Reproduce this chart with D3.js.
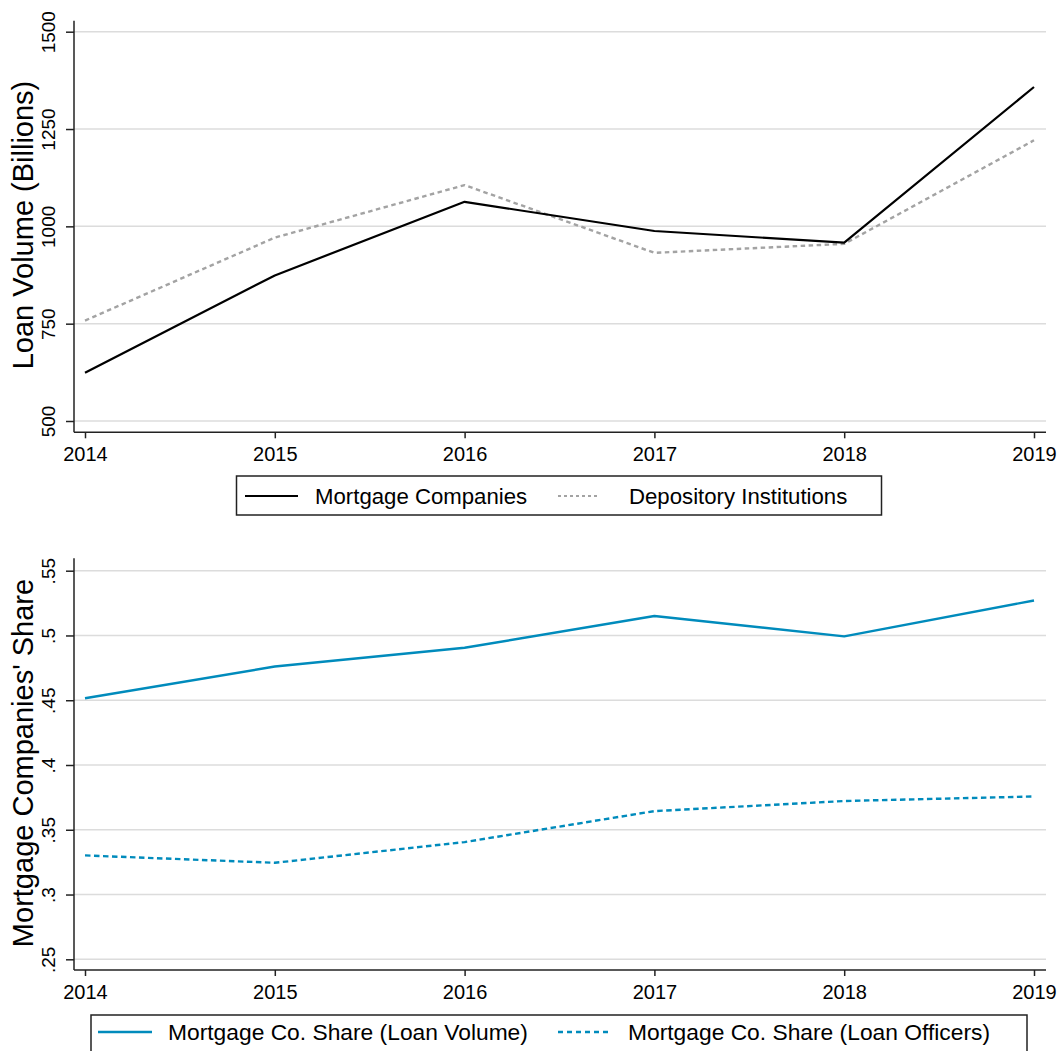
<!DOCTYPE html>
<html>
<head>
<meta charset="utf-8">
<script src="https://cdn.jsdelivr.net/npm/d3@7"></script>
<style>
  html, body { margin: 0; padding: 0; background: #fff; }
  svg { display: block; font-family: "Liberation Sans", Arial, sans-serif; }
</style>
</head>
<body>
<svg id="chart" width="1060" height="1051"></svg>
<script>
// ---- data ----
const years = [2014, 2015, 2016, 2017, 2018, 2019];
const mortgageCompanies = [624, 874, 1063, 988, 958, 1358];
const depositoryInstitutions = [758, 971, 1106, 932, 955, 1221];
const shareLoanVolume = [0.4515, 0.476, 0.4905, 0.515, 0.4993, 0.527];
const shareLoanOfficers = [0.3302, 0.3245, 0.3405, 0.3644, 0.3722, 0.3757];
const topTicks = [500, 750, 1000, 1250, 1500];
const bottomTicks = [0.25, 0.30, 0.35, 0.40, 0.45, 0.50, 0.55];
const bottomTickLabels = [".25", ".3", ".35", ".4", ".45", ".5", ".55"];
const topLegend = ["Mortgage Companies", "Depository Institutions"];
const bottomLegend = ["Mortgage Co. Share (Loan Volume)", "Mortgage Co. Share (Loan Officers)"];

const svg = d3.select("#chart");
const BLUE = "rgb(0,139,188)";
const GRAY = "#a3a3a3";
const GRID = "#dcdcdc";
const AXIS = "#222";

const x = d3.scaleLinear().domain([2014, 2019]).range([85, 1034]);
const plotLeft = 74, plotRight = 1046;

function panel(cfg) {
  const g = svg.append("g");
  const y = cfg.y;
  // gridlines
  g.selectAll("line.grid").data(cfg.ticks).join("line")
    .attr("x1", plotLeft).attr("x2", plotRight)
    .attr("y1", d => y(d)).attr("y2", d => y(d))
    .attr("stroke", GRID).attr("stroke-width", 1.5);
  // y axis
  const yAxis = d3.axisLeft(y).tickValues(cfg.ticks).tickSize(8).tickFormat((d, i) => cfg.tickLabels[i]);
  const ya = g.append("g").attr("transform", `translate(${plotLeft},0)`).call(yAxis);
  ya.select(".domain").remove();
  ya.selectAll(".tick line").attr("stroke", AXIS).attr("stroke-width", 1.5);
  ya.selectAll(".tick text")
    .attr("font-size", 19).attr("fill", "#000")
    .attr("x", null).attr("dy", null)
    .attr("text-anchor", "middle")
    .attr("transform", "translate(-19,0) rotate(-90)");
  // axis lines
  g.append("line").attr("x1", plotLeft).attr("x2", plotLeft)
    .attr("y1", cfg.top).attr("y2", cfg.bottom).attr("stroke", AXIS).attr("stroke-width", 1.5);
  // x axis
  const xAxis = d3.axisBottom(x).tickValues(years).tickSize(6).tickFormat(d3.format("d"));
  const xa = g.append("g").attr("transform", `translate(0,${cfg.bottom})`).call(xAxis);
  xa.select(".domain").remove();
  xa.selectAll(".tick line").attr("stroke", AXIS).attr("stroke-width", 1.5);
  xa.selectAll(".tick text").attr("font-size", 20).attr("fill", "#000").attr("y", 15).attr("dy", "0.71em");
  g.append("line").attr("x1", plotLeft).attr("x2", plotRight)
    .attr("y1", cfg.bottom).attr("y2", cfg.bottom).attr("stroke", AXIS).attr("stroke-width", 1.5);
  // title
  g.append("text").attr("transform", `translate(33,${cfg.titleY}) rotate(-90)`)
    .attr("text-anchor", "middle").attr("font-size", 29).attr("fill", "#000").text(cfg.title);
  // series
  cfg.series.forEach(s => {
    const line = d3.line().x((d, i) => x(years[i])).y(d => y(d)).curve(cfg.curve);
    g.append("path").datum(s.values).attr("d", line)
      .attr("fill", "none").attr("stroke", s.color).attr("stroke-width", s.width)
      .attr("stroke-dasharray", s.dash || null).attr("stroke-linejoin", "round");
  });
  // legend
  const L = cfg.legend;
  g.append("rect").attr("x", L.x).attr("y", L.y).attr("width", L.w).attr("height", L.h)
    .attr("fill", "#fff").attr("stroke", AXIS).attr("stroke-width", 1.5);
  L.items.forEach(it => {
    g.append("line").attr("x1", it.x1).attr("x2", it.x2).attr("y1", L.lineY).attr("y2", L.lineY)
      .attr("stroke", it.color).attr("stroke-width", it.width).attr("stroke-dasharray", it.dash || null);
    g.append("text").attr("x", it.tx).attr("y", L.lineY).attr("dy", "0.35em")
      .attr("font-size", L.fontSize).attr("fill", "#000").text(it.label);
  });
}

panel({
  y: d3.scaleLinear().domain([500, 1500]).range([421, 31.7]),
  ticks: topTicks, tickLabels: topTicks.map(String),
  top: 20.7, bottom: 432.3, title: "Loan Volume (Billions)", titleY: 225,
  curve: d3.curveLinear,
  series: [
    { values: depositoryInstitutions, color: GRAY, width: 2.4, dash: "4.5,3.5" },
    { values: mortgageCompanies, color: "#000", width: 2.2 }
  ],
  legend: { x: 236.5, y: 476, w: 645, h: 39, lineY: 496, fontSize: 22.2,
    items: [
      { x1: 245, x2: 298, color: "#000", width: 2.2, tx: 315, label: topLegend[0] },
      { x1: 558, x2: 598, color: GRAY, width: 2, dash: "3,3", tx: 629, label: topLegend[1] }
    ] }
});

panel({
  y: d3.scaleLinear().domain([0.25, 0.55]).range([959.3, 570.7]),
  ticks: bottomTicks, tickLabels: bottomTickLabels,
  top: 558.3, bottom: 970, title: "Mortgage Companies' Share", titleY: 763,
  curve: d3.curveLinear,
  series: [
    { values: shareLoanVolume, color: BLUE, width: 2.4 },
    { values: shareLoanOfficers, color: BLUE, width: 2.4, dash: "5.5,3.5" }
  ],
  legend: { x: 91, y: 1015, w: 936, h: 42, lineY: 1032, fontSize: 22.8,
    items: [
      { x1: 98, x2: 152, color: BLUE, width: 2.4, tx: 168, label: bottomLegend[0] },
      { x1: 558, x2: 612, color: BLUE, width: 2.4, dash: "5,4", tx: 628, label: bottomLegend[1] }
    ] }
});
</script>
</body>
</html>
